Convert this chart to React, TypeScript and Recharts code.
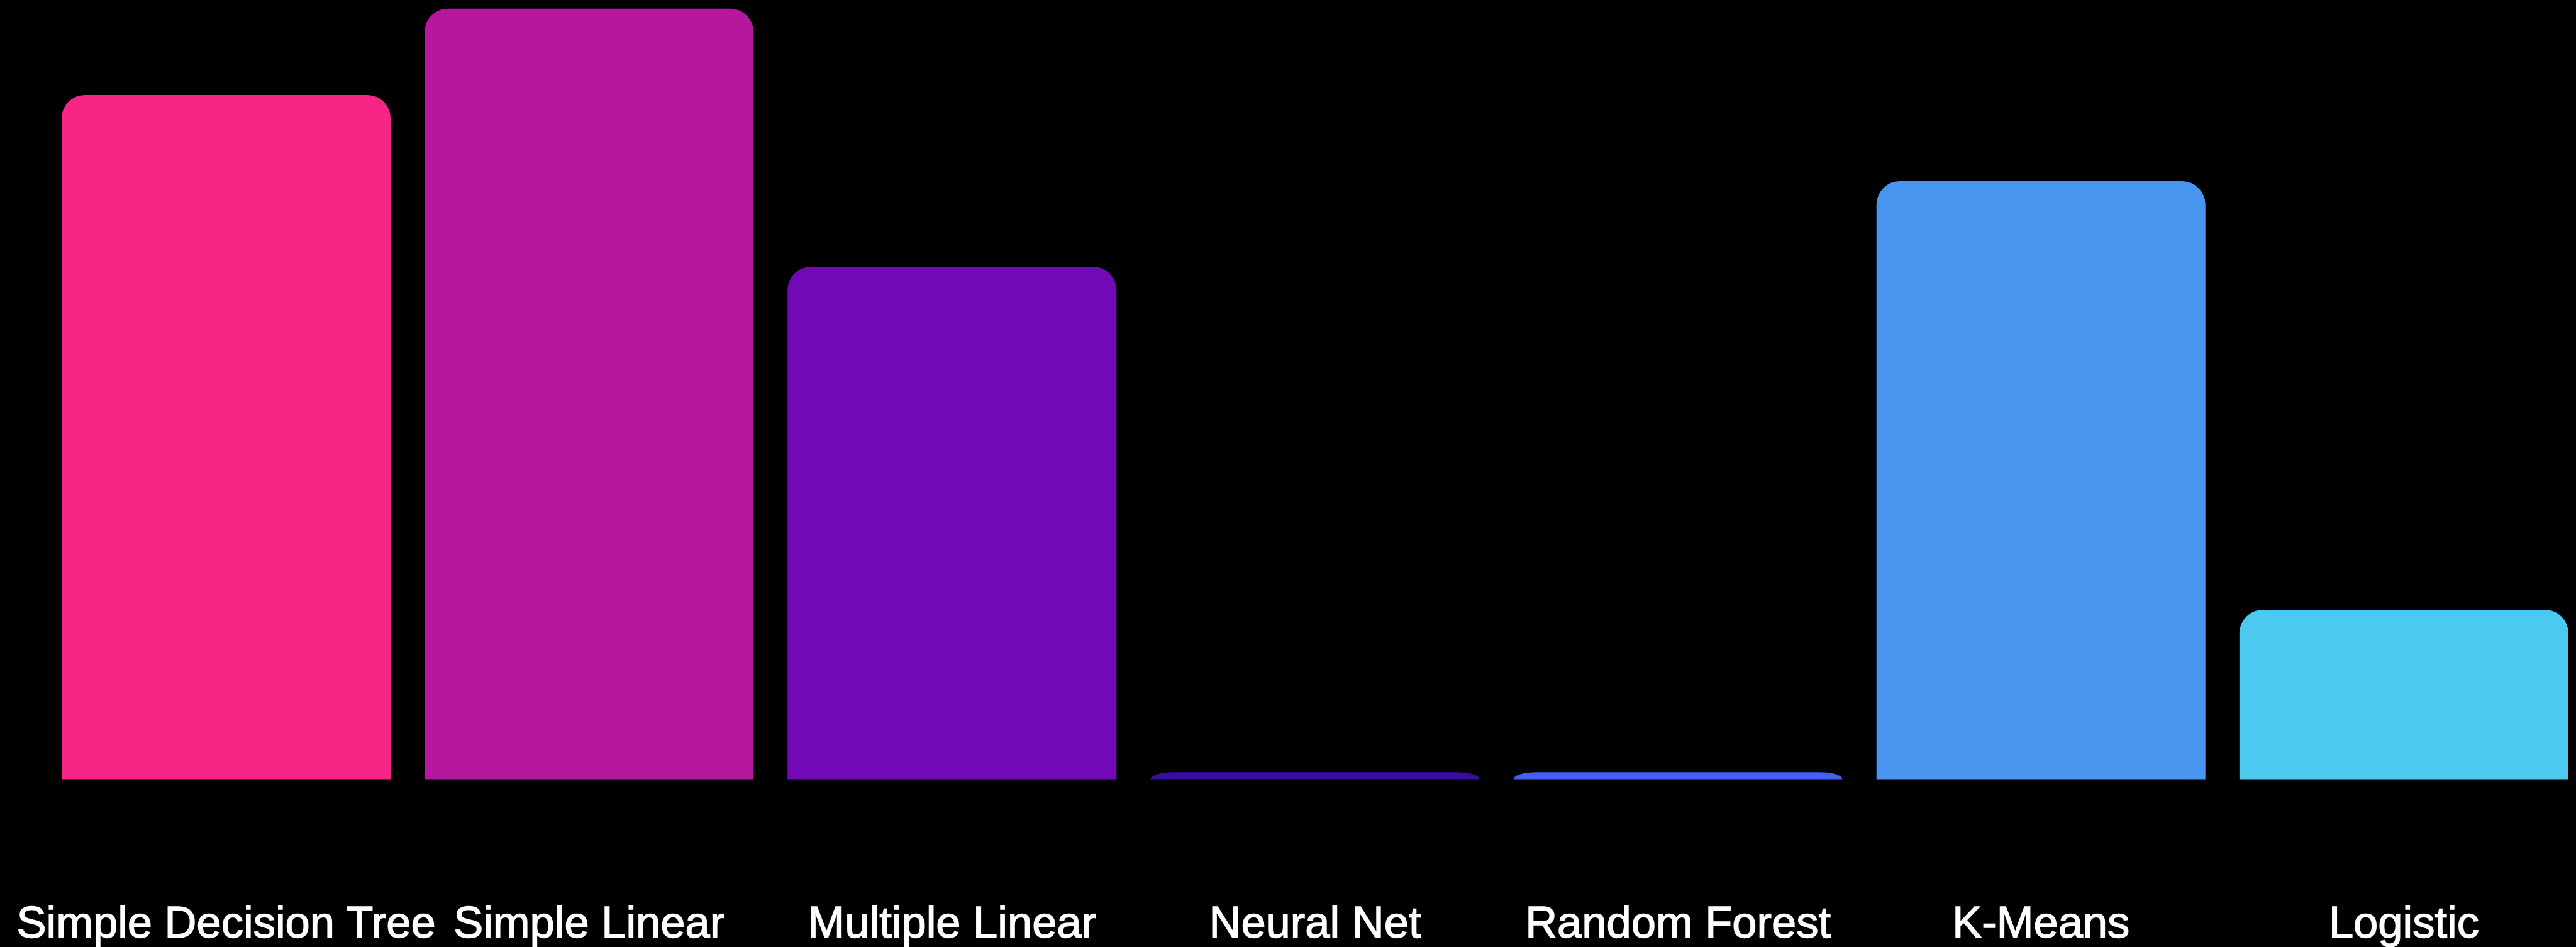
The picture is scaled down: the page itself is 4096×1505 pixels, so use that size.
import { BarChart, Bar, Cell, XAxis, YAxis } from 'recharts';

const MODELS = ['Simple Decision Tree', 'Simple Linear', 'Multiple Linear', 'Neural Net', 'Random Forest', 'K-Means', 'Logistic'];
const SCORES = [88.8, 100, 66.5, 0.92, 0.92, 77.6, 22.0];
const COLORS = ['#f72585', '#b5179e', '#7209b7', '#3a0ca3', '#4361ee', '#4895ef', '#4cc9f0'];

const data = MODELS.map((name, i) => ({ name, value: SCORES[i] }));

// rounded top corners, radius squashed when the bar is short
const RoundTop = ({ x, y, width, height, fill }: any) => {
  if (!height || height <= 0) return null;
  const rx = Math.min(37, width / 2);
  const ry = Math.min(37, height);
  const d = `M${x},${y + height} L${x},${y + ry} A${rx},${ry} 0 0 1 ${x + rx},${y} L${x + width - rx},${y} A${rx},${ry} 0 0 1 ${x + width},${y + ry} L${x + width},${y + height} Z`;
  return <path d={d} fill={fill} />;
};

export default function App() {
  return (
    <div style={{ width: 4096, height: 1505, overflow: 'hidden', background: '#000' }}>
      <style>{`body{margin:0;background:#000;overflow:hidden}`}</style>
      <BarChart width={4111} height={1505} data={data} margin={{ top: 13.7, right: 0, bottom: 0, left: 71 }}>
        <XAxis
          dataKey="name"
          axisLine={false}
          tickLine={false}
          interval={0}
          height={266.5}
          tickMargin={195}
          tick={{ fill: '#ffffff', stroke: '#ffffff', strokeWidth: 1.4, fontSize: 70.5, fontFamily: '"Liberation Sans", Arial, sans-serif' }}
        />
        <YAxis hide domain={[0, 100]} />
        <Bar dataKey="value" barSize={523} shape={<RoundTop />} isAnimationActive={false}>
          {data.map((entry, index) => (
            <Cell key={`cell-${index}`} fill={COLORS[index % COLORS.length]} />
          ))}
        </Bar>
      </BarChart>
    </div>
  );
}
